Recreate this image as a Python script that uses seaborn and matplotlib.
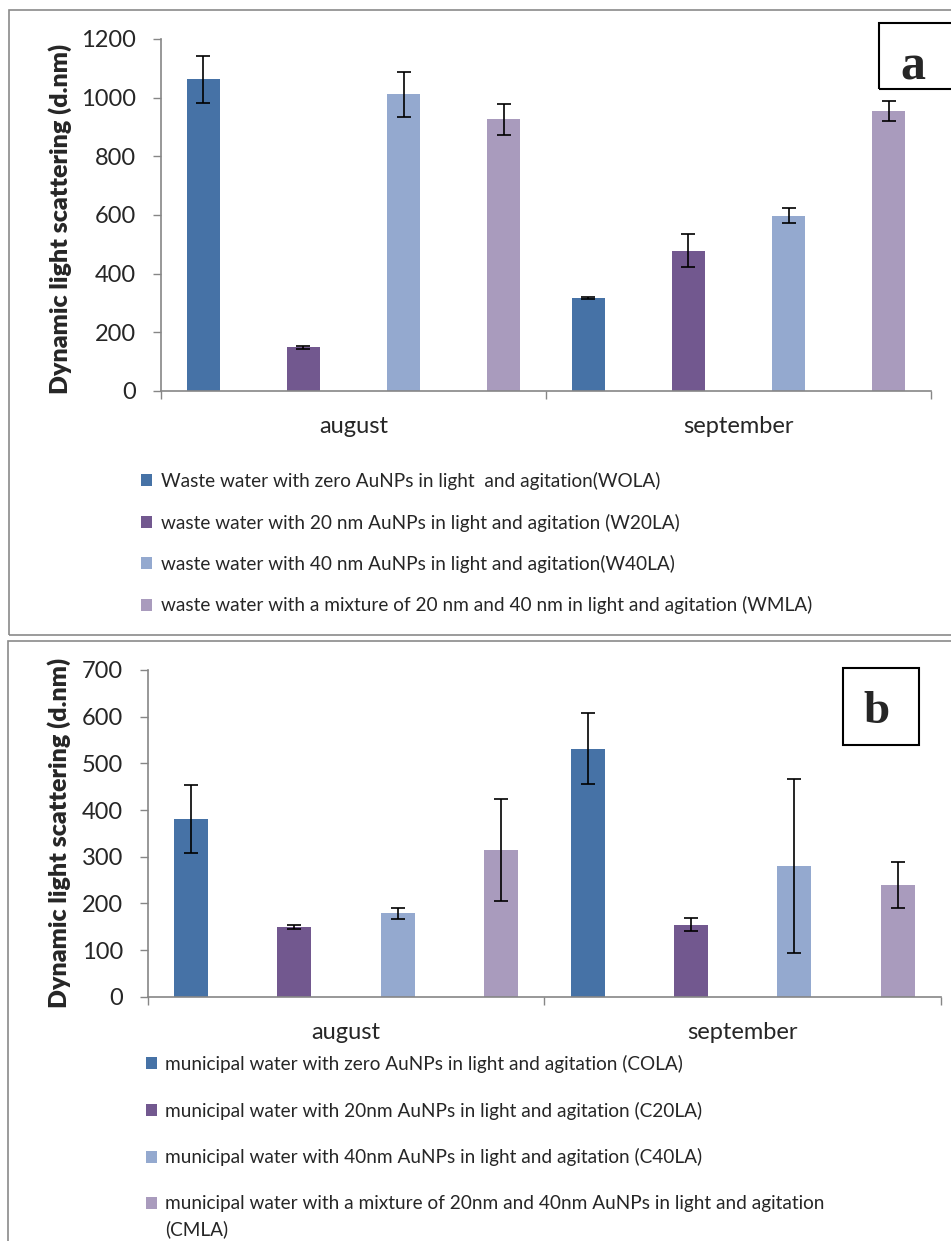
import numpy as np
import pandas as pd
import matplotlib
matplotlib.use("Agg")
import matplotlib.pyplot as plt
from matplotlib.patches import Rectangle, Patch
from matplotlib.ticker import FixedLocator
from matplotlib.legend_handler import HandlerPatch
import seaborn as sns

# ---------------- data ----------------
months = ["august", "september"]

labels_a = [
    "Waste water with zero AuNPs in light  and agitation(WOLA)",
    "waste water with 20 nm AuNPs in light and agitation (W20LA)",
    "waste water with 40 nm AuNPs in light and agitation(W40LA)",
    "waste water with a mixture of 20 nm and 40 nm in light and agitation (WMLA)",
]
wola = [1063, 316]
w20la = [149, 478]
w40la = [1011, 598]
wmla = [926, 953]
wola_err = [80, 3]
w20la_err = [5, 56]
w40la_err = [78, 25]
wmla_err = [52, 34]

labels_b = [
    "municipal water with zero AuNPs in light and agitation (COLA)",
    "municipal water with 20nm AuNPs in light and agitation (C20LA)",
    "municipal water with 40nm AuNPs in light and agitation (C40LA)",
    "municipal water with a mixture of 20nm and 40nm AuNPs in light and agitation\n(CMLA)",
]
cola = [381, 531]
c20la = [150, 154]
c40la = [179, 280]
cmla = [314, 239]
cola_err = [73, 76]
c20la_err = [4, 14]
c40la_err = [12, 186]
cmla_err = [109, 50]

yticks_a = [0, 200, 400, 600, 800, 1000, 1200]
yticks_b = [0, 100, 200, 300, 400, 500, 600, 700]
ylabel = "Dynamic light scattering (d.nm)"

colors = ["#4672A6", "#72588F", "#94A9CF", "#A99BBD"]

# ---------------- style ----------------
sns.set_style("ticks")
plt.rcParams["font.family"] = ["Lato", "DejaVu Sans"]

W, H = 951, 1241
fig = plt.figure(figsize=(W / 100, H / 100), dpi=100)


def fx(px):
    return px / W


def fy(py):
    return 1 - py / H


def long_df(labels, vals, errs):
    rows = []
    for lab, v, e in zip(labels, vals, errs):
        for m, vv, ee in zip(months, v, e):
            rows.append({"month": m, "series": lab, "value": vv, "err": ee})
    return pd.DataFrame(rows)


def panel(left, right, top, bottom, labels, vals, errs, yticks, ylab_x, ylab_y):
    ax = fig.add_axes([fx(left), fy(bottom), fx(right) - fx(left), (bottom - top) / H])
    df = long_df(labels, vals, errs)
    sns.barplot(data=df, x="month", y="value", hue="series", hue_order=labels,
                order=months, palette=colors, saturation=1, width=1.042, gap=0.67,
                errorbar=None, linewidth=0, legend=False, ax=ax)
    for cont, e in zip(ax.containers, errs):
        xs = [p.get_x() + p.get_width() / 2 for p in cont]
        ys = [p.get_height() for p in cont]
        ax.errorbar(xs, ys, yerr=e, fmt="none", ecolor="black", elinewidth=1.2,
                    capsize=4.7, capthick=1.2, zorder=5)
    ax.set_xlim(-0.5, 1.5)
    ax.set_ylim(yticks[0], yticks[-1])
    ax.set_yticks(yticks)
    ax.set_xticks([0, 1])
    ax.set_xticklabels(months, fontsize=17)
    ax.xaxis.set_minor_locator(FixedLocator([-0.5, 0.5, 1.5]))
    ax.tick_params(axis="x", which="major", length=0, pad=18)
    ax.tick_params(axis="x", which="minor", length=5.5, width=1, color="#868686", direction="out")
    ax.tick_params(axis="y", which="major", length=5.8, width=1, color="#868686",
                   labelsize=17, pad=12, direction="out")
    ax.set_xlabel("")
    ax.set_ylabel(ylabel, fontsize=18, fontweight="heavy")
    ax.yaxis.set_label_coords(ylab_x, ylab_y)
    for s in ["top", "right"]:
        ax.spines[s].set_visible(False)
    for s in ["left", "bottom"]:
        ax.spines[s].set_color("#868686")
        ax.spines[s].set_linewidth(1.2)
    return ax


ax_a = panel(161, 931, 39, 391, labels_a, [wola, w20la, w40la, wmla],
             [wola_err, w20la_err, w40la_err, wmla_err], yticks_a, -0.1156, 0.49)
ax_b = panel(147.7, 941, 670, 996.7, labels_b, [cola, c20la, c40la, cmla],
             [cola_err, c20la_err, c40la_err, cmla_err], yticks_b, -0.0967, 0.5)


# ---------------- legends ----------------
class TopAlignedHandler(HandlerPatch):
    """Square marker aligned with the first line of a two-line label."""

    def __init__(self, shift_pt, **kw):
        super().__init__(**kw)
        self.shift_pt = shift_pt

    def create_artists(self, legend, orig_handle, xdescent, ydescent, width,
                       height, fontsize, trans):
        p = Rectangle((-xdescent, -ydescent + self.shift_pt), width, height)
        self.update_prop(p, orig_handle, legend)
        p.set_transform(trans)
        return [p]


def add_legend(labels, x_px, y_px, spacing, shift_last=None):
    handles = [Patch(facecolor=c, edgecolor="none") for c in colors]
    hmap = {}
    if shift_last is not None:
        hmap[handles[-1]] = TopAlignedHandler(shift_last)
    leg = fig.legend(handles, labels, loc="upper left",
                     bbox_to_anchor=(fx(x_px), fy(y_px)), bbox_transform=fig.transFigure,
                     frameon=False, borderpad=0, borderaxespad=0, fontsize=13.7,
                     handlelength=0.6, handleheight=0.6, handletextpad=0.45,
                     labelspacing=spacing, handler_map=hmap)
    for t in leg.get_texts():
        t.set_linespacing(1.55)
    return leg


add_legend(labels_a, 141, 472, 1.23)
add_legend(labels_b, 145.5, 1055, 1.5, shift_last=9.6)

# ---------------- panel frames and labels ----------------
frame_kw = dict(transform=fig.transFigure, fill=False, edgecolor="#8a8a8a",
                linewidth=1.2, clip_on=False)
fig.patches.append(Rectangle((fx(8.5), fy(635)), fx(960) - fx(8.5), fy(9.5) - fy(635), **frame_kw))
fig.patches.append(Rectangle((fx(8), fy(1260)), fx(960) - fx(8), fy(641) - fy(1260), **frame_kw))

box_kw = dict(transform=fig.transFigure, fill=False, edgecolor="black",
              linewidth=1.5, clip_on=False)
fig.patches.append(Rectangle((fx(879), fy(89)), fx(960) - fx(879), fy(23) - fy(89), **box_kw))
fig.patches.append(Rectangle((fx(843), fy(745)), fx(919) - fx(843), fy(668) - fy(745), **box_kw))
fig.text(fx(912.5), fy(79), "a", family="Liberation Serif", fontweight="bold",
         fontsize=36, ha="center", va="baseline")
fig.text(fx(876.7), fy(723), "b", family="Liberation Serif", fontweight="bold",
         fontsize=34, ha="center", va="baseline")

fig.savefig("out.png", dpi=100)
